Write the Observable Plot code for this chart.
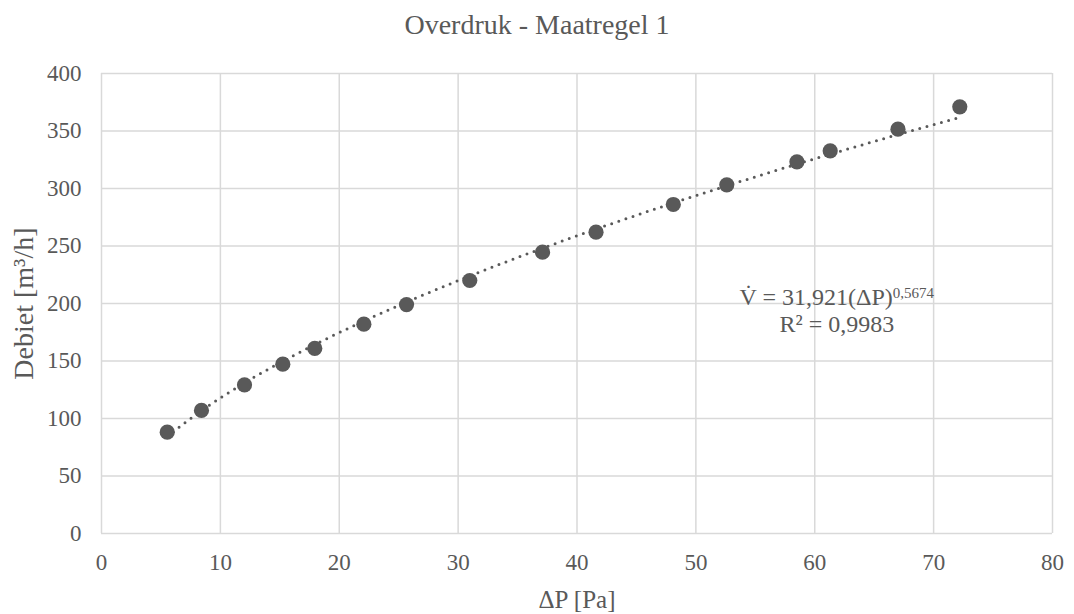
<!DOCTYPE html>
<html>
<head>
<meta charset="utf-8">
<script src="https://cdn.jsdelivr.net/npm/d3@7"></script>
<script src="https://cdn.jsdelivr.net/npm/@observablehq/plot@0.6"></script>
<style>
  html, body { margin: 0; padding: 0; background: #fff; }
  #title { width: 1074px; height: 60px; box-sizing: border-box; padding-top: 11px; line-height: 28px; text-align: center; font-family: "Liberation Serif", serif; font-size: 28px; color: #595959; white-space: nowrap; }
  #chart { height: 554px; }
</style>
</head>
<body>
<div id="title">Overdruk - Maatregel 1</div>
<div id="chart"></div>
<script>
// Measured data: pressure difference [Pa] and flow [m3/h]
const deltaP = [5.53, 8.41, 12.03, 15.25, 17.94, 22.07, 25.66, 30.98, 37.1, 41.6, 48.1, 52.6, 58.5, 61.3, 67.0, 72.2];
const debiet = [88.1, 107.0, 129.3, 147.2, 160.9, 182.0, 199.1, 220.0, 244.6, 262.0, 286.1, 303.2, 323.2, 332.8, 351.6, 371.0];
// Power trendline coefficients as displayed on the chart
const fitA = 31.921;
const fitB = 0.5674;
const fitALabel = "31,921";
const fitBLabel = "0,5674";
const rSquared = "0,9983";
const xTicks = [0, 10, 20, 30, 40, 50, 60, 70, 80];
const yTicks = [0, 50, 100, 150, 200, 250, 300, 350, 400];

const points = deltaP.map((x, i) => ({x, y: debiet[i]}));
const trend = deltaP.map(x => ({x, y: fitA * Math.pow(x, fitB)}));

const grey = "#595959";
const gridC = "#d9d9d9";
const serif = "'Liberation Serif', 'Times New Roman', serif";

const plot = Plot.plot({
  width: 1074,
  height: 554,
  marginTop: 13,
  marginBottom: 81,
  marginLeft: 101,
  marginRight: 22,
  style: { fontFamily: serif, fontSize: "23px", color: grey, background: "#fff" },
  x: { domain: [0, 80], ticks: xTicks },
  y: { domain: [0, 400], ticks: yTicks },
  marks: [
    Plot.gridX(xTicks, { stroke: gridC, strokeOpacity: 1, strokeWidth: 1.5 }),
    Plot.gridY(yTicks, { stroke: gridC, strokeOpacity: 1, strokeWidth: 1.5 }),
    Plot.axisX(xTicks, { tickSize: 0, tickPadding: 20, fontSize: 23, fontFamily: serif, fill: grey, label: null }),
    Plot.axisX({ ticks: [], tickSize: 0, label: "ΔP [Pa]", labelAnchor: "center", labelArrow: false, labelOffset: 74, fontSize: 25, fontFamily: serif, fill: grey }),
    Plot.axisY(yTicks, { tickSize: 0, tickPadding: 20, fontSize: 23, fontFamily: serif, fill: grey, label: null }),
    Plot.axisY({ ticks: [], tickSize: 0, label: "Debiet [m³/h]", labelAnchor: "center", labelArrow: false, labelOffset: 88, fontSize: 28, fontFamily: serif, fill: grey }),
    Plot.line(trend, { x: "x", y: "y", stroke: grey, strokeWidth: 3, strokeDasharray: "0,7.5", strokeLinecap: "round", curve: "monotone-x" }),
    Plot.dot(points, { x: "x", y: "y", r: 7.6, fill: grey, stroke: "none" })
  ]
});
document.getElementById("chart").appendChild(plot);

// Trendline equation label with superscripts, positioned via the plot scales
const sx = plot.scale("x"), sy = plot.scale("y");
const svg = d3.select(plot);
const g = svg.append("g").attr("font-family", serif).attr("fill", grey).attr("text-anchor", "middle");
const t1 = g.append("text").attr("x", sx.apply(61.9)).attr("y", sy.apply(198.3)).attr("font-size", 24);
t1.append("tspan").text("V\u0307 = " + fitALabel + "(ΔP)");
t1.append("tspan").attr("dy", -7).attr("font-size", 15).text(fitBLabel);
g.append("text").attr("x", sx.apply(61.9)).attr("y", sy.apply(175.2)).attr("font-size", 24).text("R² = " + rSquared);
</script>
</body>
</html>
